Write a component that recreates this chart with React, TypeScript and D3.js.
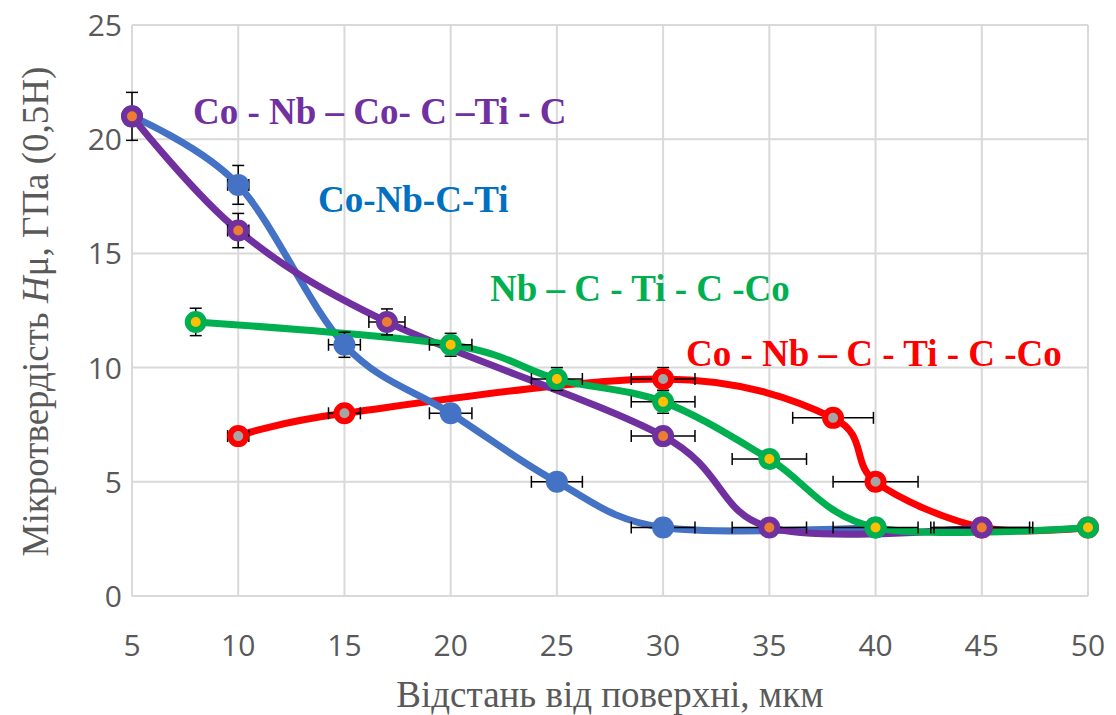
import React from 'react'
import * as d3 from 'd3'

// ---- data ----
const xTicks = [5, 10, 15, 20, 25, 30, 35, 40, 45, 50]
const yTicks = [0, 5, 10, 15, 20, 25]

// Co-Nb-C-Ti (blue)
const blueX = [5, 10, 15, 20, 25, 30, 40]
const blueY = [21, 18, 11, 8, 5, 3, 3]
const blueXErr = [0, 0.5, 0.75, 1, 1.2, 1.5, 0]
const blueYErr = [0, 0.85, 0.55, 0.35, 0, 0, 0]

// Co - Nb – Co- C –Ti - C (purple)
const purpleX = [5, 10, 17, 30, 35, 45]
const purpleY = [21, 16, 12, 7, 3, 3]
const purpleXErr = [0, 0.5, 0.85, 1.5, 1.75, 2.4]
const purpleYErr = [1.05, 0.75, 0.57, 0, 0, 0]

// Nb – C - Ti - C -Co (green)
const greenX = [8, 20, 25, 30, 35, 40, 50]
const greenY = [12, 11, 9.5, 8.5, 6, 3, 3]
const greenXErr = [0, 1, 1.2, 1.5, 1.75, 2, 0]
const greenYErr = [0.6, 0.5, 0.5, 0.5, 0, 0, 0]

// Co - Nb – C - Ti - C -Co (red)
const redX = [10, 15, 30, 38, 40, 45, 50]
const redY = [7, 8, 9.5, 7.8, 5, 3, 3]
const redXErr = [0.5, 0.75, 1.5, 1.9, 2, 2.25, 0]
const redYErr = [0.3, 0.3, 0.5, 0.3, 0, 0, 0]

const seriesNames = ['Co - Nb – Co- C –Ti - C', 'Co-Nb-C-Ti', 'Nb – C - Ti - C -Co', 'Co - Nb – C - Ti - C -Co']

type Series = {
  name: string
  xs: number[]
  ys: number[]
  xErr: number[]
  yErr: number[]
  line: string
  inner: string | null
  labelColor: string
  lx: number
  ly: number
}

const series: Series[] = [
  { name: seriesNames[3], xs: redX, ys: redY, xErr: redXErr, yErr: redYErr, line: '#FF0000', inner: '#A5A5A5', labelColor: '#FF0000', lx: 686, ly: 366 },
  { name: seriesNames[1], xs: blueX, ys: blueY, xErr: blueXErr, yErr: blueYErr, line: '#4472C4', inner: null, labelColor: '#0070C0', lx: 318, ly: 212 },
  { name: seriesNames[0], xs: purpleX, ys: purpleY, xErr: purpleXErr, yErr: purpleYErr, line: '#7030A0', inner: '#ED7D31', labelColor: '#7030A0', lx: 193, ly: 124 },
  { name: seriesNames[2], xs: greenX, ys: greenY, xErr: greenXErr, yErr: greenYErr, line: '#00B050', inner: '#FFC000', labelColor: '#00B050', lx: 490, ly: 301 },
]

const W = 1116
const H = 715
const left = 132
const right = 1088
const top = 25
const bottom = 596

export default function App() {
  const x = d3.scaleLinear().domain([5, 50]).range([left, right])
  const y = d3.scaleLinear().domain([0, 25]).range([bottom, top])

  const line = d3.line<[number, number]>()
    .x(d => x(d[0]))
    .y(d => y(d[1]))
    .curve(d3.curveCardinal.tension(0))

  const cap = 6
  const grid = '#D9D9D9'
  const textGray = '#595959'

  return (
    <svg width={W} height={H} style={{ position: 'absolute', left: 0, top: 0, background: '#fff' }}>
      {/* gridlines */}
      {yTicks.map(t => (
        <line key={'gy' + t} x1={left} x2={right} y1={y(t)} y2={y(t)} stroke={grid} strokeWidth={2} />
      ))}
      {xTicks.map(t => (
        <line key={'gx' + t} x1={x(t)} x2={x(t)} y1={top} y2={bottom} stroke={grid} strokeWidth={2} />
      ))}

      {/* tick labels */}
      {yTicks.map(t => (
        <text key={'ty' + t} x={122} y={y(t) + 11} textAnchor="end" fontFamily="'Open Sans', sans-serif" fontSize={30} fill={textGray}>{t}</text>
      ))}
      {xTicks.map(t => (
        <text key={'tx' + t} x={x(t)} y={656} textAnchor="middle" fontFamily="'Open Sans', sans-serif" fontSize={30} fill={textGray}>{t}</text>
      ))}

      {/* axis titles */}
      <text x={610} y={707} textAnchor="middle" fontFamily="'Liberation Serif', serif" fontSize={37} fill={textGray}>Відстань від поверхні, мкм</text>
      <text transform={`translate(48,${(63 + 560) / 2}) rotate(-90)`} textAnchor="middle" fontFamily="'Liberation Serif', serif" fontSize={37} fill={textGray}>
        Мікротвердість <tspan fontStyle="italic">H</tspan>μ, ГПа (0,5Н)
      </text>

      {/* lines */}
      {series.map(s => (
        <path key={'l' + s.name} d={line(s.xs.map((v, i) => [v, s.ys[i]] as [number, number])) || ''} fill="none" stroke={s.line} strokeWidth={7} strokeLinecap="round" />
      ))}

      {/* error bars */}
      {series.map(s => (
        <g key={'e' + s.name} stroke="#000" strokeWidth={1.5}>
          {s.xs.map((v, i) => (
            <g key={i}>
              {s.xErr[i] > 0 && (
                <>
                  <line x1={x(v - s.xErr[i])} x2={x(v + s.xErr[i])} y1={y(s.ys[i])} y2={y(s.ys[i])} />
                  <line x1={x(v - s.xErr[i])} x2={x(v - s.xErr[i])} y1={y(s.ys[i]) - cap} y2={y(s.ys[i]) + cap} />
                  <line x1={x(v + s.xErr[i])} x2={x(v + s.xErr[i])} y1={y(s.ys[i]) - cap} y2={y(s.ys[i]) + cap} />
                </>
              )}
              {s.yErr[i] > 0 && (
                <>
                  <line x1={x(v)} x2={x(v)} y1={y(s.ys[i] - s.yErr[i])} y2={y(s.ys[i] + s.yErr[i])} />
                  <line x1={x(v) - cap} x2={x(v) + cap} y1={y(s.ys[i] - s.yErr[i])} y2={y(s.ys[i] - s.yErr[i])} />
                  <line x1={x(v) - cap} x2={x(v) + cap} y1={y(s.ys[i] + s.yErr[i])} y2={y(s.ys[i] + s.yErr[i])} />
                </>
              )}
            </g>
          ))}
        </g>
      ))}

      {/* markers */}
      {series.map(s => (
        <g key={'m' + s.name}>
          {s.xs.map((v, i) => s.inner ? (
            <circle key={i} cx={x(v)} cy={y(s.ys[i])} r={8} fill={s.inner} stroke={s.line} strokeWidth={6} />
          ) : (
            <circle key={i} cx={x(v)} cy={y(s.ys[i])} r={11} fill={s.line} />
          ))}
        </g>
      ))}

      {/* series labels */}
      {series.map(s => (
        <text key={'n' + s.name} x={s.lx} y={s.ly} fontFamily="'Liberation Serif', serif" fontWeight="bold" fontSize={37} fill={s.labelColor}>{s.name}</text>
      ))}
    </svg>
  )
}
